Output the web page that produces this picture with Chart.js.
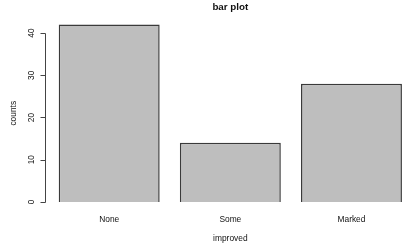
<!DOCTYPE html>
<html>
<head>
<meta charset="utf-8">
<title>bar plot</title>
<script src="https://cdn.jsdelivr.net/npm/chart.js@4/dist/chart.umd.min.js"></script>
<style>
  html, body { margin: 0; padding: 0; background: #fff; }
</style>
</head>
<body>
<canvas id="barplot" width="408" height="244"></canvas>
<script>
// Values
const categories = ['None', 'Some', 'Marked'];
const counts = [42, 14, 28];
const yTicks = [0, 10, 20, 30, 40];

// R barplot layout: bar width 1, space 0.2 -> centres 0.7, 1.9, 3.1
const barCentres = categories.map((c, i) => 0.2 + i * 1.2 + 0.5);

const FONT = '"Liberation Sans", Arial, sans-serif';
const TEXT = '#111';

// Draws the R style axis, tick labels and titles from the chart scales
const rAxes = {
    id: 'rAxes',
    afterDraw(chart) {
        const { ctx, chartArea, scales: { x, y } } = chart;
        const axisX = chartArea.left + 0.5;
        ctx.save();

        // y axis line only spans the ticks, like base graphics
        ctx.strokeStyle = '#444';
        ctx.lineWidth = 1;
        ctx.beginPath();
        const yTop = Math.round(y.getPixelForValue(yTicks[yTicks.length - 1])) + 0.5;
        const yBot = Math.round(y.getPixelForValue(yTicks[0])) + 0.5;
        ctx.moveTo(axisX, yTop);
        ctx.lineTo(axisX, yBot);
        yTicks.forEach(v => {
            const py = Math.round(y.getPixelForValue(v)) + 0.5;
            ctx.moveTo(axisX - 5, py);
            ctx.lineTo(axisX, py);
        });
        ctx.stroke();

        // rotated y tick labels
        ctx.fillStyle = TEXT;
        ctx.font = '8.4px ' + FONT;
        ctx.textAlign = 'center';
        ctx.textBaseline = 'alphabetic';
        yTicks.forEach(v => {
            ctx.save();
            ctx.translate(axisX - 11.5, y.getPixelForValue(v));
            ctx.rotate(-Math.PI / 2);
            ctx.fillText(String(v), 0, 0);
            ctx.restore();
        });

        // category labels under the bars
        categories.forEach((c, i) => {
            ctx.fillText(c, x.getPixelForValue(barCentres[i]), 222);
        });

        // axis titles
        const midX = x.getPixelForValue(barCentres[1]);
        ctx.fillText('improved', midX, 241);
        ctx.save();
        ctx.translate(15.5, (chartArea.top + chartArea.bottom) / 2);
        ctx.rotate(-Math.PI / 2);
        ctx.fillText('counts', 0, 0);
        ctx.restore();

        // main title
        ctx.font = 'bold 9.8px ' + FONT;
        ctx.fillText('bar plot', midX, 9.5);

        ctx.restore();
    }
};

const ctx = document.getElementById('barplot').getContext('2d');
const chart = new Chart(ctx, {
    type: 'bar',
    data: {
        datasets: [{
            data: counts.map((v, i) => ({ x: barCentres[i], y: v })),
            backgroundColor: '#bebebe',
            borderColor: '#3a3a3a',
            borderWidth: 1.5,
            barPercentage: 1 / 1.2,
            categoryPercentage: 1
        }]
    },
    options: {
        responsive: false,
        animation: false,
        devicePixelRatio: 1,
        layout: { padding: { left: 45, top: 17.5, right: 0, bottom: 35 } },
        plugins: {
            legend: { display: false },
            tooltip: { enabled: false },
            title: { display: false }
        },
        scales: {
            x: {
                type: 'linear',
                display: false,
                offset: false,
                min: 0.064,
                max: 3.66, // R's usr goes to 3.736 but the picture is cropped
                afterBuildTicks: scale => {
                    scale.ticks = barCentres.map(v => ({ value: v }));
                }
            },
            y: {
                display: false,
                min: -1.68,
                max: 43.68,
                afterBuildTicks: scale => {
                    scale.ticks = yTicks.map(v => ({ value: v }));
                }
            }
        }
    },
    plugins: [rAxes]
});
</script>
</body>
</html>
